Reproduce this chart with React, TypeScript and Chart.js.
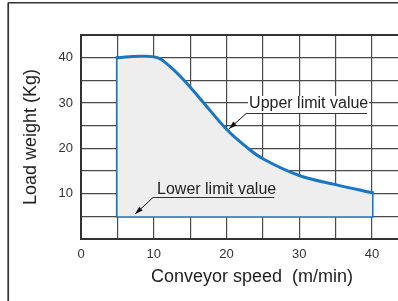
import React, { useEffect, useRef } from 'react';
import { Chart, registerables } from 'chart.js';

Chart.register(...registerables);

// ---- data ----
const upperSpeed = [5, 8, 10.5, 12.2, 14, 16.4, 20, 22.5, 25, 30, 35, 40];
const upperLoad = [40, 40.3, 40, 38.1, 35.3, 30.9, 24.2, 20.6, 17.7, 14.0, 12, 10.2];
const boundarySpeed = [5, 5, 40, 40];
const boundaryLoad = [40, 5, 5, 10.2];
const lowerLimitLoad = 5;
const xTickLabels = [0, 10, 20, 30, 40];
const yTickLabels = [10, 20, 30, 40];

// annotation anchors in data units
const annotations = [
  { text: 'Upper limit value', x: 23.1, y: 28.9, lineY: 27.8, lineX1: 22.7, lineX2: 39.3, tipX: 20.35, tipY: 24.3, bg: '#ffffff' },
  { text: 'Lower limit value', x: 10.45, y: 9.93, lineY: 9.27, lineX1: 9.9, lineX2: 26.55, tipX: 7.43, tipY: 5.5, bg: '#eeeeee' },
];

const FONT = '"Liberation Sans", Arial, sans-serif';
const BLUE = '#1777c4';

const framePlugin = {
  id: 'frame',
  beforeDraw(chart: any) {
    const ctx = chart.ctx;
    ctx.save();
    ctx.fillStyle = '#ffffff';
    ctx.fillRect(0, 0, chart.width, chart.height);
    ctx.strokeStyle = '#333333';
    ctx.lineWidth = 1.7;
    ctx.beginPath();
    ctx.moveTo(8.2, 2.7);
    ctx.lineTo(8.2, chart.height);
    ctx.stroke();
    ctx.lineWidth = 1.5;
    ctx.beginPath();
    ctx.moveTo(8.2, 2.7);
    ctx.lineTo(chart.width, 2.7);
    ctx.stroke();
    ctx.restore();
  },
};

const annotationPlugin = {
  id: 'limitLabels',
  afterDatasetsDraw(chart: any) {
    const ctx = chart.ctx;
    const xs = chart.scales.x;
    const ys = chart.scales.y;
    ctx.save();
    ctx.font = `16px ${FONT}`;
    annotations.forEach((a) => {
      const px = xs.getPixelForValue(a.x);
      const py = ys.getPixelForValue(a.y);
      const w = ctx.measureText(a.text).width;
      const lx1 = xs.getPixelForValue(a.lineX1);
      const lx2 = xs.getPixelForValue(a.lineX2);
      const ly = Math.round(ys.getPixelForValue(a.lineY)) + 0.5;
      ctx.fillStyle = a.bg;
      ctx.fillRect(px - 1, py - 12, w + 2, ly - (py - 12) - 0.5);
      ctx.fillStyle = '#222222';
      ctx.textBaseline = 'alphabetic';
      ctx.textAlign = 'left';
      ctx.fillText(a.text, px, py);
      ctx.strokeStyle = '#333333';
      ctx.lineWidth = 1;
      ctx.beginPath();
      ctx.moveTo(lx1, ly);
      ctx.lineTo(lx2, ly);
      ctx.stroke();
      const tx = xs.getPixelForValue(a.tipX);
      const ty = ys.getPixelForValue(a.tipY);
      ctx.strokeStyle = '#111111';
      ctx.beginPath();
      ctx.moveTo(lx1, ly);
      ctx.lineTo(tx, ty);
      ctx.stroke();
      const ang = Math.atan2(ty - ly, tx - lx1);
      const len = 8;
      const hw = 2.6;
      const bx = tx - Math.cos(ang) * len;
      const by = ty - Math.sin(ang) * len;
      ctx.fillStyle = '#111111';
      ctx.beginPath();
      ctx.moveTo(tx, ty);
      ctx.lineTo(bx + Math.sin(ang) * hw, by - Math.cos(ang) * hw);
      ctx.lineTo(bx - Math.sin(ang) * hw, by + Math.cos(ang) * hw);
      ctx.closePath();
      ctx.fill();
    });
    ctx.restore();
  },
};

export default function App() {
  const ref = useRef<HTMLCanvasElement | null>(null);

  useEffect(() => {
    if (!ref.current) return;
    const upper = upperSpeed.map((x, i) => ({ x, y: upperLoad[i] }));
    const boundary = boundarySpeed.map((x, i) => ({ x, y: boundaryLoad[i] }));
    const chart = new Chart(ref.current, {
      type: 'line',
      data: {
        datasets: [
          {
            label: 'Upper limit value',
            data: upper,
            borderColor: BLUE,
            borderWidth: 3,
            backgroundColor: '#eeeeee',
            fill: { value: lowerLimitLoad },
            tension: 0.4,
            pointRadius: 0,
            borderCapStyle: 'square',
          },
          {
            label: 'Boundary',
            data: boundary,
            borderColor: BLUE,
            borderWidth: 3,
            fill: false,
            tension: 0,
            pointRadius: 0,
            borderJoinStyle: 'miter',
            borderCapStyle: 'square',
          },
        ],
      },
      options: {
        responsive: false,
        maintainAspectRatio: false,
        animation: false,
        layout: { padding: { top: 35, right: 17, left: 0, bottom: 0 } },
        plugins: {
          legend: { display: false },
          tooltip: { enabled: false },
          title: { display: false },
        },
        scales: {
          x: {
            type: 'linear',
            min: 0,
            max: 47,
            afterFit: (s: any) => { s.height = 62; },
            ticks: {
              stepSize: 5,
              padding: 8,
              autoSkip: false,
              maxRotation: 0,
              color: '#333333',
              font: { family: FONT, size: 13 },
              callback: (v: any) => (xTickLabels.includes(Number(v)) ? String(v) : ''),
            },
            grid: {
              drawTicks: false,
              color: '#4a4a4a',
              lineWidth: 1.2,
            },
            border: { display: true, color: '#333333', width: 2 },
            title: {
              display: true,
              text: 'Conveyor speed  (m/min)',
              color: '#222222',
              font: { family: FONT, size: 18 },
              padding: { top: 0, bottom: 13.5 },
            },
          },
          y: {
            type: 'linear',
            min: 0,
            max: 45,
            afterFit: (s: any) => { s.width = 81; },
            ticks: {
              stepSize: 5,
              padding: 8,
              autoSkip: false,
              color: '#333333',
              font: { family: FONT, size: 13 },
              callback: (v: any) => (yTickLabels.includes(Number(v)) ? String(v) : ''),
            },
            grid: {
              drawTicks: false,
              color: (c: any) => (c.tick && c.tick.value === 45 ? '#333333' : '#4a4a4a'),
              lineWidth: (c: any) => (c.tick && c.tick.value === 45 ? 2 : 1.2),
            },
            border: { display: true, color: '#333333', width: 2 },
            title: {
              display: true,
              text: 'Load weight (Kg)',
              color: '#222222',
              font: { family: FONT, size: 18 },
              padding: { top: 20, bottom: 0 },
            },
          },
        },
      },
      plugins: [framePlugin, annotationPlugin],
    });
    return () => chart.destroy();
  }, []);

  return (
    <div style={{ position: 'fixed', left: 0, top: 0, width: 398, height: 301, overflow: 'hidden', background: '#fff' }}>
      <canvas ref={ref} width={440} height={301} style={{ display: 'block', width: 440, height: 301 }} />
    </div>
  );
}
